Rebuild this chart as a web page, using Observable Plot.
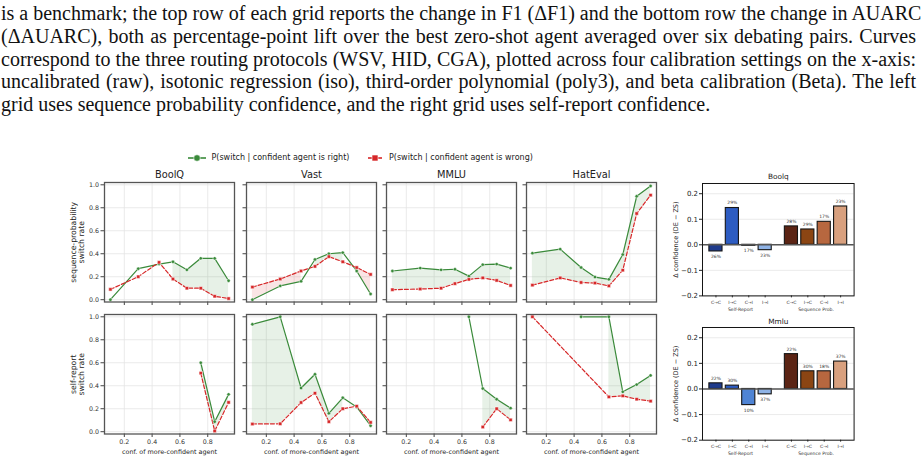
<!DOCTYPE html>
<html>
<head>
<meta charset="utf-8">
<script src="https://cdn.jsdelivr.net/npm/d3@7"></script>
<script src="https://cdn.jsdelivr.net/npm/@observablehq/plot@0.6"></script>
<style>
  html, body { margin: 0; padding: 0; background: #fff; }
  #page { position: relative; width: 922px; height: 463px; overflow: hidden; background: #fff; }
  .para { position: absolute; left: 1px; top: 2.4px; width: 915px;
          font-family: "Liberation Serif", "Times New Roman", serif;
          font-size: 20px; line-height: 22.6px; color: #111; }
  .para div { white-space: nowrap; text-align: justify; text-align-last: justify; }
  .para div.last { text-align-last: left; }
  .panel { position: absolute; }
  .legend-text { position: absolute; font-family: "DejaVu Sans", sans-serif; font-size: 8px;
                 line-height: 10px; color: #222; white-space: nowrap; }
  .legend-swatch { position: absolute; }
</style>
</head>
<body>
<div id="page">
  <div class="para">
    <div>is a benchmark; the top row of each grid reports the change in F1 (ΔF1) and the bottom row the change in AUARC</div>
    <div>(ΔAUARC), both as percentage-point lift over the best zero-shot agent averaged over six debating pairs. Curves</div>
    <div>correspond to the three routing protocols (WSV, HID, CGA), plotted across four calibration settings on the x-axis:</div>
    <div>uncalibrated (raw), isotonic regression (iso), third-order polynomial (poly3), and beta calibration (Beta). The left</div>
    <div class="last">grid uses sequence probability confidence, and the right grid uses self-report confidence.</div>
  </div>

  <svg class="legend-swatch" style="left:187px;top:153px" width="20" height="10">
    <line x1="1" y1="5" x2="19" y2="5" stroke="#3a8a3a" stroke-width="1.6"/>
    <circle cx="10" cy="5" r="3.3" fill="#3a8a3a" stroke="#fff" stroke-width="0.6"/>
  </svg>
  <div class="legend-text" style="left:211.5px;top:153px">P(switch | confident agent is right)</div>
  <svg class="legend-swatch" style="left:367px;top:153px" width="16" height="10">
    <line x1="1" y1="5" x2="15" y2="5" stroke="#d62728" stroke-width="1.6"/>
    <rect x="5" y="2" width="6" height="6" fill="#d62728" stroke="#fff" stroke-width="0.6"/>
  </svg>
  <div class="legend-text" style="left:389px;top:153px">P(switch | confident agent is wrong)</div>
</div>

<script>
// Confidence bins of the more-confident agent (bin centres)
const bins = [0.1, 0.3, 0.45, 0.55, 0.65, 0.75, 0.85, 0.95];
const datasets = ["BoolQ", "Vast", "MMLU", "HatEval"];

// Sequence-probability confidence: switch rate per bin, one array per dataset
const seqRight = [
  [0.00, 0.27, 0.31, 0.33, 0.26, 0.36, 0.36, 0.165],
  [0.00, 0.12, 0.16, 0.35, 0.40, 0.41, 0.25, 0.05],
  [0.25, 0.275, 0.26, 0.265, 0.205, 0.305, 0.31, 0.275],
  [0.405, 0.44, 0.28, 0.197, 0.177, 0.393, 0.90, 0.99]
];
const seqWrong = [
  [0.09, 0.20, 0.325, 0.18, 0.10, 0.10, 0.03, 0.01],
  [0.11, 0.18, 0.25, 0.29, 0.375, 0.33, 0.28, 0.22],
  [0.087, 0.093, 0.10, 0.14, 0.177, 0.19, 0.168, 0.124],
  [0.127, 0.19, 0.15, 0.145, 0.12, 0.257, 0.75, 0.91]
];

// Self-report confidence: empty bins are null
const selfRight = [
  [null, null, null, null, null, 0.60, 0.087, 0.325],
  [0.935, 1.00, 0.38, 0.50, 0.16, 0.295, 0.215, 0.052],
  [null, null, null, null, 1.00, 0.376, 0.283, 0.205],
  [null, null, 1.00, null, 1.00, 0.347, 0.41, 0.49]
];
const selfWrong = [
  [null, null, null, null, null, 0.51, 0.006, 0.255],
  [0.067, 0.069, 0.254, 0.335, 0.087, 0.20, 0.222, 0.081],
  [null, null, null, null, null, 0.041, 0.20, 0.103],
  [1.00, null, null, null, 0.303, 0.312, 0.283, 0.266]
];

const rowLabels = ["sequence-probability\nswitch rate", "self-report\nswitch rate"];
const xLabel = "conf. of more-confident agent";
const rateTicks = [0, 0.2, 0.4, 0.6, 0.8, 1.0];
const confTicks = [0.2, 0.4, 0.6, 0.8];

// Confidence shift bars (DE − ZS) with the share of cases in each transition
const transitions = ["C→C", "I→C", "C→I", "I→I"];
const barGroups = ["Self-Report", "Sequence Prob."];
const boolqSelf = [-0.026, 0.144, -0.004, -0.021];
const boolqSeq = [0.072, 0.060, 0.090, 0.150];
const boolqSelfPct = ["26%", "29%", "17%", "23%"];
const boolqSeqPct = ["28%", "29%", "17%", "23%"];
const mmluSelf = [0.022, 0.013, -0.063, -0.021];
const mmluSeq = [0.136, 0.069, 0.069, 0.107];
const mmluSelfPct = ["22%", "30%", "10%", "37%"];
const mmluSeqPct = ["22%", "30%", "18%", "37%"];
const deltaTicks = [-0.2, -0.1, 0, 0.1, 0.2];

const GREEN = "#3a8a3a";
const RED = "#d62728";
const selfColors = ["#1f3b8c", "#2d5cc2", "#4f84d4", "#8fb3e6"];
const seqColors = ["#5b2414", "#8b4513", "#b7673f", "#d8a07e"];

const page = document.getElementById("page");
const FONT = "DejaVu Sans, sans-serif";

function place(svg, left, top) {
  const wrap = document.createElement("div");
  wrap.className = "panel";
  wrap.style.left = left + "px";
  wrap.style.top = top + "px";
  wrap.appendChild(svg);
  page.appendChild(wrap);
}

// ---- switch-rate grid -------------------------------------------------------
const colLeft = [104, 245.5, 386, 526];
const rowTop = [182, 314];
const PW = 130, PH = 119.5;
const M = {left: 40, right: 6, top: 16, bottom: 24};

function switchPanel(row, col) {
  const right = (row === 0 ? seqRight : selfRight)[col];
  const wrong = (row === 0 ? seqWrong : selfWrong)[col];
  const pts = bins.map((x, i) => ({x, r: right[i], w: wrong[i]}));
  const rPts = pts.filter(d => d.r != null);
  const wPts = pts.filter(d => d.w != null);
  const both = d => d.r != null && d.w != null;
  const gap = d => ({x: d.x, r: NaN, w: NaN});
  const greenBand = pts.map(d => both(d) && d.r > d.w ? d : gap(d));
  const redBand = pts.map(d => both(d) && d.w > d.r ? d : gap(d));
  const fmt = d3.format(".1f");

  const marks = [
    Plot.gridY(rateTicks, {stroke: "#e4e4e4", strokeOpacity: 1, strokeWidth: 0.8}),
    Plot.gridX(confTicks, {stroke: "#e4e4e4", strokeOpacity: 1, strokeWidth: 0.8}),
    Plot.areaY(greenBand, {x: "x", y1: "w", y2: "r", fill: GREEN, fillOpacity: 0.12}),
    Plot.areaY(redBand, {x: "x", y1: "r", y2: "w", fill: RED, fillOpacity: 0.12}),
    Plot.line(rPts, {x: "x", y: "r", stroke: GREEN, strokeWidth: 1.2}),
    Plot.line(wPts, {x: "x", y: "w", stroke: RED, strokeWidth: 1.2, strokeDasharray: "4,2"}),
    Plot.dot(rPts, {x: "x", y: "r", r: 1.7, fill: GREEN, stroke: "white", strokeWidth: 0.5}),
    Plot.dot(wPts, {x: "x", y: "w", r: 1.9, symbol: "square", fill: RED, stroke: "white", strokeWidth: 0.5}),
    Plot.axisY(rateTicks, {tickSize: 3.5, tickPadding: 2, stroke: "#444",
      tickFormat: col === 0 ? fmt : () => "", label: null, fontSize: 6.3, fill: "#333"}),
    Plot.axisX(confTicks, {tickSize: 3.5, tickPadding: 2, stroke: "#444",
      tickFormat: row === 1 ? fmt : () => "", label: null, fontSize: 6.3, fill: "#333"}),
    Plot.frame({stroke: "#555", strokeWidth: 1.3})
  ];
  if (row === 0) {
    marks.push(Plot.text([datasets[col]], {frameAnchor: "top", lineAnchor: "middle", dy: -8,
      fontSize: 9.8, fill: "#222"}));
  }
  if (row === 1) {
    marks.push(Plot.text([xLabel], {frameAnchor: "bottom", lineAnchor: "middle", dy: 18.2,
      fontSize: 6.4, fill: "#222"}));
  }
  if (col === 0) {
    marks.push(Plot.text([rowLabels[row]], {frameAnchor: "left", textAnchor: "middle", lineAnchor: "middle",
      rotate: -90, dx: -27, fontSize: 7.7, lineHeight: 1.05, fill: "#222"}));
  }

  const svg = Plot.plot({
    width: PW + M.left + M.right,
    height: PH + M.top + M.bottom,
    marginLeft: M.left, marginRight: M.right, marginTop: M.top, marginBottom: M.bottom,
    x: {domain: [0.0575, 0.9925]},
    y: {domain: [-0.02, 1.02]},
    style: {fontFamily: FONT, fontSize: "6.3px", background: "transparent", overflow: "visible"},
    marks
  });
  place(svg, colLeft[col] - M.left, rowTop[row] - M.top);
}

for (let row = 0; row < 2; ++row) {
  for (let col = 0; col < 4; ++col) switchPanel(row, col);
}

// ---- confidence-shift bars ----------------------------------------------------
const barPos = [0, 1, 2, 3, 4.6, 5.6, 6.6, 7.6];
const tickName = new Map(barPos.map((p, i) => [p, transitions[i % 4]]));
const BM = {left: 40, right: 8, top: 16, bottom: 22};

function barPanel(title, selfVals, seqVals, selfPct, seqPct, frameTop, frameH, titleDy) {
  const bars = [
    ...selfVals.map((v, i) => ({pos: barPos[i], v, pct: selfPct[i], color: selfColors[i]})),
    ...seqVals.map((v, i) => ({pos: barPos[i + 4], v, pct: seqPct[i], color: seqColors[i]}))
  ];
  const groups = [{x: 1.5, name: barGroups[0]}, {x: 6.1, name: barGroups[1]}];
  const svg = Plot.plot({
    width: 151.6 + BM.left + BM.right,
    height: frameH + BM.top + BM.bottom,
    marginLeft: BM.left, marginRight: BM.right, marginTop: BM.top, marginBottom: BM.bottom,
    x: {domain: [-0.82, 8.42]},
    y: {domain: [-0.2, 0.24]},
    color: {type: "identity"},
    style: {fontFamily: FONT, fontSize: "7px", background: "transparent", overflow: "visible"},
    marks: [
      Plot.gridY(deltaTicks, {stroke: "#e6e6e6", strokeOpacity: 1, strokeWidth: 0.8}),
      Plot.rect(bars, {x1: d => d.pos - 0.4, x2: d => d.pos + 0.4, y1: 0, y2: "v",
        fill: "color", stroke: "#151515", strokeWidth: 1.1}),
      Plot.ruleY([0], {stroke: "#555", strokeWidth: 1.5}),
      Plot.text(bars.filter(d => d.v >= 0), {x: "pos", y: "v", text: "pct", dy: -5, fontSize: 4.5, fill: "#333"}),
      Plot.text(bars.filter(d => d.v < 0), {x: "pos", y: "v", text: "pct", dy: 5, fontSize: 4.5, fill: "#333"}),
      Plot.axisY(deltaTicks, {tickSize: 3, tickPadding: 1.5, tickFormat: d3.format(".1f"),
        label: null, fontSize: 7, fill: "#222", stroke: "#222"}),
      Plot.axisX(barPos, {tickSize: 2, tickPadding: 2.5, tickFormat: p => tickName.get(p),
        label: null, fontSize: 4.5, fill: "#333", stroke: "#333"}),
      Plot.text(groups, {x: "x", text: "name", frameAnchor: "bottom", lineAnchor: "middle", dy: 13.5,
        fontSize: 4.6, fill: "#333"}),
      Plot.text([title], {frameAnchor: "top", lineAnchor: "middle", dy: titleDy, fontSize: 7.4, fill: "#222"}),
      Plot.text(["Δ confidence (DE − ZS)"], {frameAnchor: "left", textAnchor: "middle", lineAnchor: "middle",
        rotate: -90, dx: -26.7, fontSize: 6.5, fill: "#222"}),
      Plot.frame({stroke: "#151515", strokeWidth: 1})
    ]
  });
  place(svg, 701.7 - BM.left, frameTop - BM.top);
}

barPanel("Boolq", boolqSelf, boolqSeq, boolqSelfPct, boolqSeqPct, 183.3, 112.4, -6.6);
barPanel("Mmlu", mmluSelf, mmluSeq, mmluSelfPct, mmluSeqPct, 327.3, 112.7, -6.3);
</script>
</body>
</html>
